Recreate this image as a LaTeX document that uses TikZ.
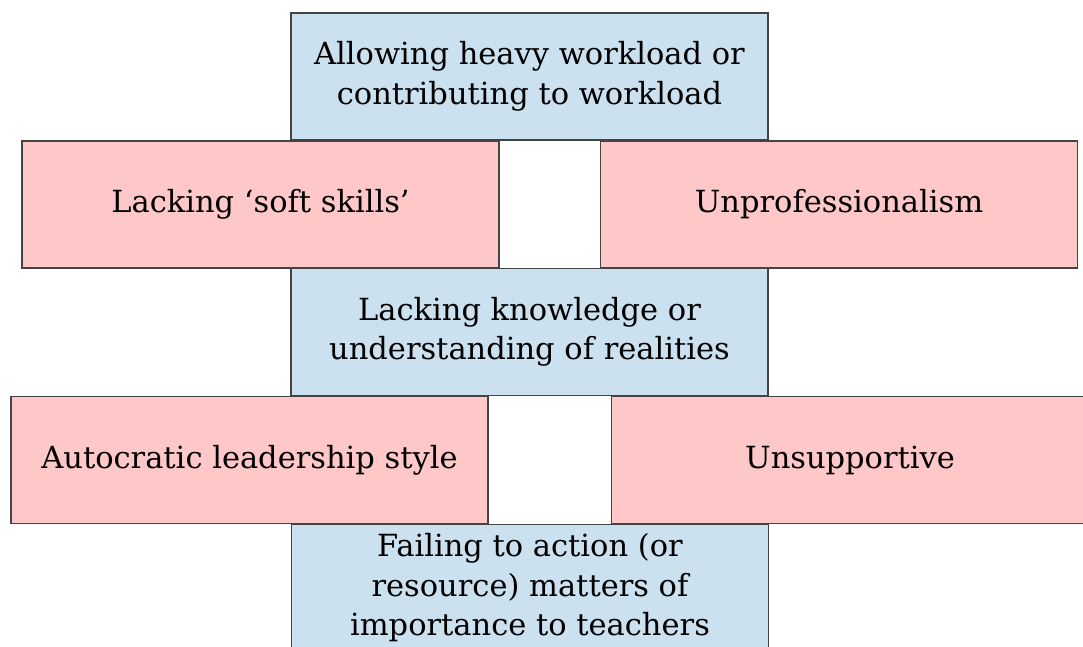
\documentclass[tikz,border=0pt]{standalone}
\usepackage{fontspec}
\setmainfont{DejaVu Serif}
\definecolor{boxblue}{RGB}{204,225,240}
\definecolor{boxpink}{RGB}{255,200,200}
\definecolor{edge}{RGB}{68,68,68}
\begin{document}
\begin{tikzpicture}[x=1pt,y=-1pt,
  cell/.style={draw=edge,line width=1.6pt,minimum width=477pt,minimum height=127pt,
    inner sep=0pt,align=center,text=black,font=\fontsize{30.5}{39.5}\selectfont},
  bluecell/.style={cell,fill=boxblue},
  pinkcell/.style={cell,fill=boxpink}]
\useasboundingbox (0,0) rectangle (1083,647);
\clip (0,0) rectangle (1083,647);
\node[bluecell] (b1) at (529.5,76.5) {Allowing heavy workload or\\contributing to workload};
\node[bluecell] (b2) at (529.5,332) {Lacking knowledge or\\understanding of realities};
\node[bluecell] (b3) at (530,588) {Failing to action (or\\resource) matters of\\importance to teachers};
\node[pinkcell] (p1) at (260.5,204.5) {Lacking ‘soft skills’};
\node[pinkcell] (p2) at (839,204.5) {Unprofessionalism};
\node[pinkcell] (p3) at (249.5,460) {Autocratic leadership style};
\node[pinkcell] (p4) at (850,460) {Unsupportive};
\end{tikzpicture}
\end{document}
